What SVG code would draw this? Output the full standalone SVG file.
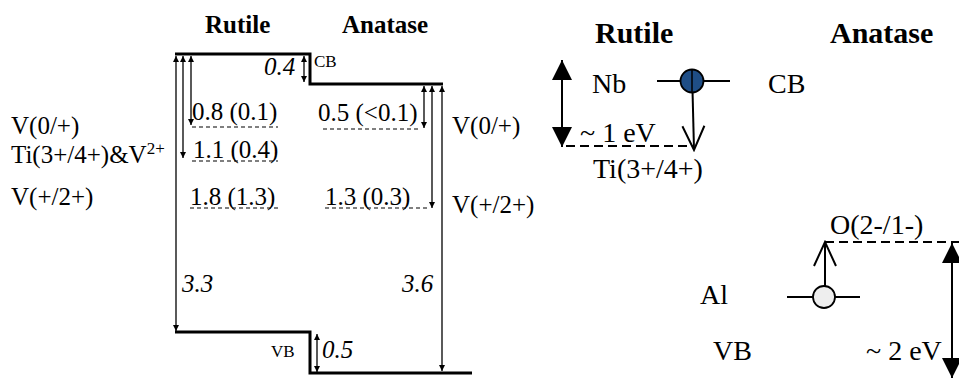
<svg xmlns="http://www.w3.org/2000/svg" width="959" height="378" viewBox="0 0 959 378">
<style>
  text { font-family: "Liberation Serif", "Times New Roman", serif; fill: #000; }
  .t  { font-size: 25px; }
  .ti { font-size: 25px; font-weight: bold; }
  .it { font-size: 25px; font-style: italic; }
  .sm { font-size: 17px; }
  .r  { font-size: 28px; }
  .rti { font-size: 30px; font-weight: bold; }
  .band { fill: none; stroke: #000; stroke-width: 3; }
  .lvl { stroke: #000; stroke-width: 1.2; stroke-dasharray: 4 3; fill: none; }
  .arr { stroke: #000; stroke-width: 1.3; fill: none; marker-start: url(#ah); marker-end: url(#ah); }
  .rl  { stroke: #000; stroke-width: 2; fill: none; }
  .rd  { stroke: #000; stroke-width: 2.2; stroke-dasharray: 9 5; fill: none; }
</style>
<defs>
  <marker id="ah" viewBox="0 0 10 10" refX="10" refY="5" markerWidth="9" markerHeight="6" markerUnits="userSpaceOnUse" orient="auto-start-reverse">
    <path d="M0,0 L10,5 L0,10 z" fill="#000"/>
  </marker>
  <marker id="big" viewBox="0 0 10 10" refX="10" refY="5" markerWidth="20" markerHeight="21" markerUnits="userSpaceOnUse" orient="auto-start-reverse">
    <path d="M0,0 L10,5 L0,10 z" fill="#000"/>
  </marker>
  <marker id="open" viewBox="-2 -2 28 26" refX="24" refY="11" markerWidth="28" markerHeight="26" markerUnits="userSpaceOnUse" orient="auto">
    <path d="M0,0 L24,11 L0,22" fill="none" stroke="#000" stroke-width="2"/>
  </marker>
</defs>

<!-- Left diagram -->
<g id="titles-left">
  <text class="ti" x="205" y="33">Rutile</text>
  <text class="ti" x="342" y="33">Anatase</text>
</g>
<g id="cb-band">
  <polyline class="band" points="175,54 310,54 310,84 443,84"/>
  <text class="sm" x="314" y="67">CB</text>
</g>
<g id="vb-band">
  <polyline class="band" points="175,332 310,332 310,373 472,373"/>
  <text class="sm" x="271" y="357">VB</text>
</g>
<g id="level-r08">
  <line class="lvl" x1="192" y1="127" x2="278" y2="127"/>
  <text class="t" x="192" y="120">0.8 (0.1)</text>
</g>
<g id="level-r11">
  <line class="lvl" x1="192" y1="161" x2="278" y2="161"/>
  <text class="t" x="193" y="158">1.1 (0.4)</text>
</g>
<g id="level-r18">
  <line class="lvl" x1="190" y1="208" x2="278" y2="208"/>
  <text class="t" x="190" y="205">1.8 (1.3)</text>
</g>
<g id="level-a05">
  <line class="lvl" x1="323" y1="129" x2="421" y2="129"/>
  <text class="t" x="318" y="121">0.5 (&lt;0.1)</text>
</g>
<g id="level-a13">
  <line class="lvl" x1="325" y1="208" x2="428" y2="208"/>
  <text class="t" x="325" y="205">1.3 (0.3)</text>
</g>
<g id="labels-left">
  <text class="t" x="11" y="134">V(0/+)</text>
  <text class="t" x="11" y="163">Ti(3+/4+)&amp;V<tspan font-size="17" dy="-9">2+</tspan></text>
  <text class="t" x="11" y="205">V(+/2+)</text>
  <text class="t" x="452" y="134">V(0/+)</text>
  <text class="t" x="452" y="213">V(+/2+)</text>
</g>
<g id="values-left">
  <text class="it" x="264" y="75">0.4</text>
  <text class="it" x="182" y="292">3.3</text>
  <text class="it" x="402" y="292">3.6</text>
  <text class="it" x="322" y="358">0.5</text>
</g>
<g id="connectors">
  <line class="arr" x1="176" y1="56" x2="176" y2="331"/>
  <line class="arr" x1="183" y1="56" x2="183" y2="158"/>
  <line class="arr" x1="191" y1="56" x2="191" y2="125"/>
  <line class="arr" x1="304" y1="56" x2="304" y2="82"/>
  <line class="arr" x1="424" y1="86" x2="424" y2="128"/>
  <line class="arr" x1="432" y1="86" x2="432" y2="208"/>
  <line class="arr" x1="442" y1="86" x2="442" y2="371"/>
  <line class="arr" x1="317" y1="334" x2="317" y2="372"/>
  <!-- right diagram arrows -->
  <line class="rl" x1="562" y1="60" x2="562" y2="147" marker-start="url(#big)" marker-end="url(#big)"/>
  <line class="rl" x1="692" y1="70" x2="694" y2="150" marker-end="url(#open)"/>
  <line class="rl" x1="825" y1="286" x2="825" y2="242" marker-end="url(#open)"/>
  <line class="rl" x1="952" y1="243" x2="952" y2="378" marker-start="url(#big)" marker-end="url(#big)"/>
</g>

<!-- Right diagram -->
<g id="titles-right">
  <text class="rti" x="595" y="43">Rutile</text>
  <text class="rti" x="830" y="43">Anatase</text>
</g>
<g id="nb-level">
  <line class="rl" x1="657" y1="81" x2="730" y2="81"/>
  <circle cx="692" cy="81" r="11.5" fill="#1f4e86" stroke="#000" stroke-width="1.8"/>
  <line x1="692" y1="70" x2="692" y2="92" stroke="#000" stroke-width="1.5"/>
  <text class="r" x="592" y="93">Nb</text>
  <text class="r" x="768" y="93">CB</text>
</g>
<g id="ti-level">
  <line class="rd" x1="566" y1="146" x2="694" y2="146"/>
  <text class="r" x="580" y="142">~ 1 eV</text>
  <text class="r" x="593" y="178">Ti(3+/4+)</text>
</g>
<g id="o-level">
  <line class="rd" x1="825" y1="242" x2="959" y2="242"/>
  <text class="r" x="830" y="234">O(2-/1-)</text>
</g>
<g id="al-level">
  <line class="rl" x1="787" y1="297" x2="860" y2="297"/>
  <circle cx="824" cy="297" r="11" fill="#eeeeee" stroke="#000" stroke-width="1.8"/>
  <text class="r" x="700" y="304">Al</text>
  <text class="r" x="713" y="360">VB</text>
  <text class="r" x="866" y="360">~ 2 eV</text>
</g>
</svg>
